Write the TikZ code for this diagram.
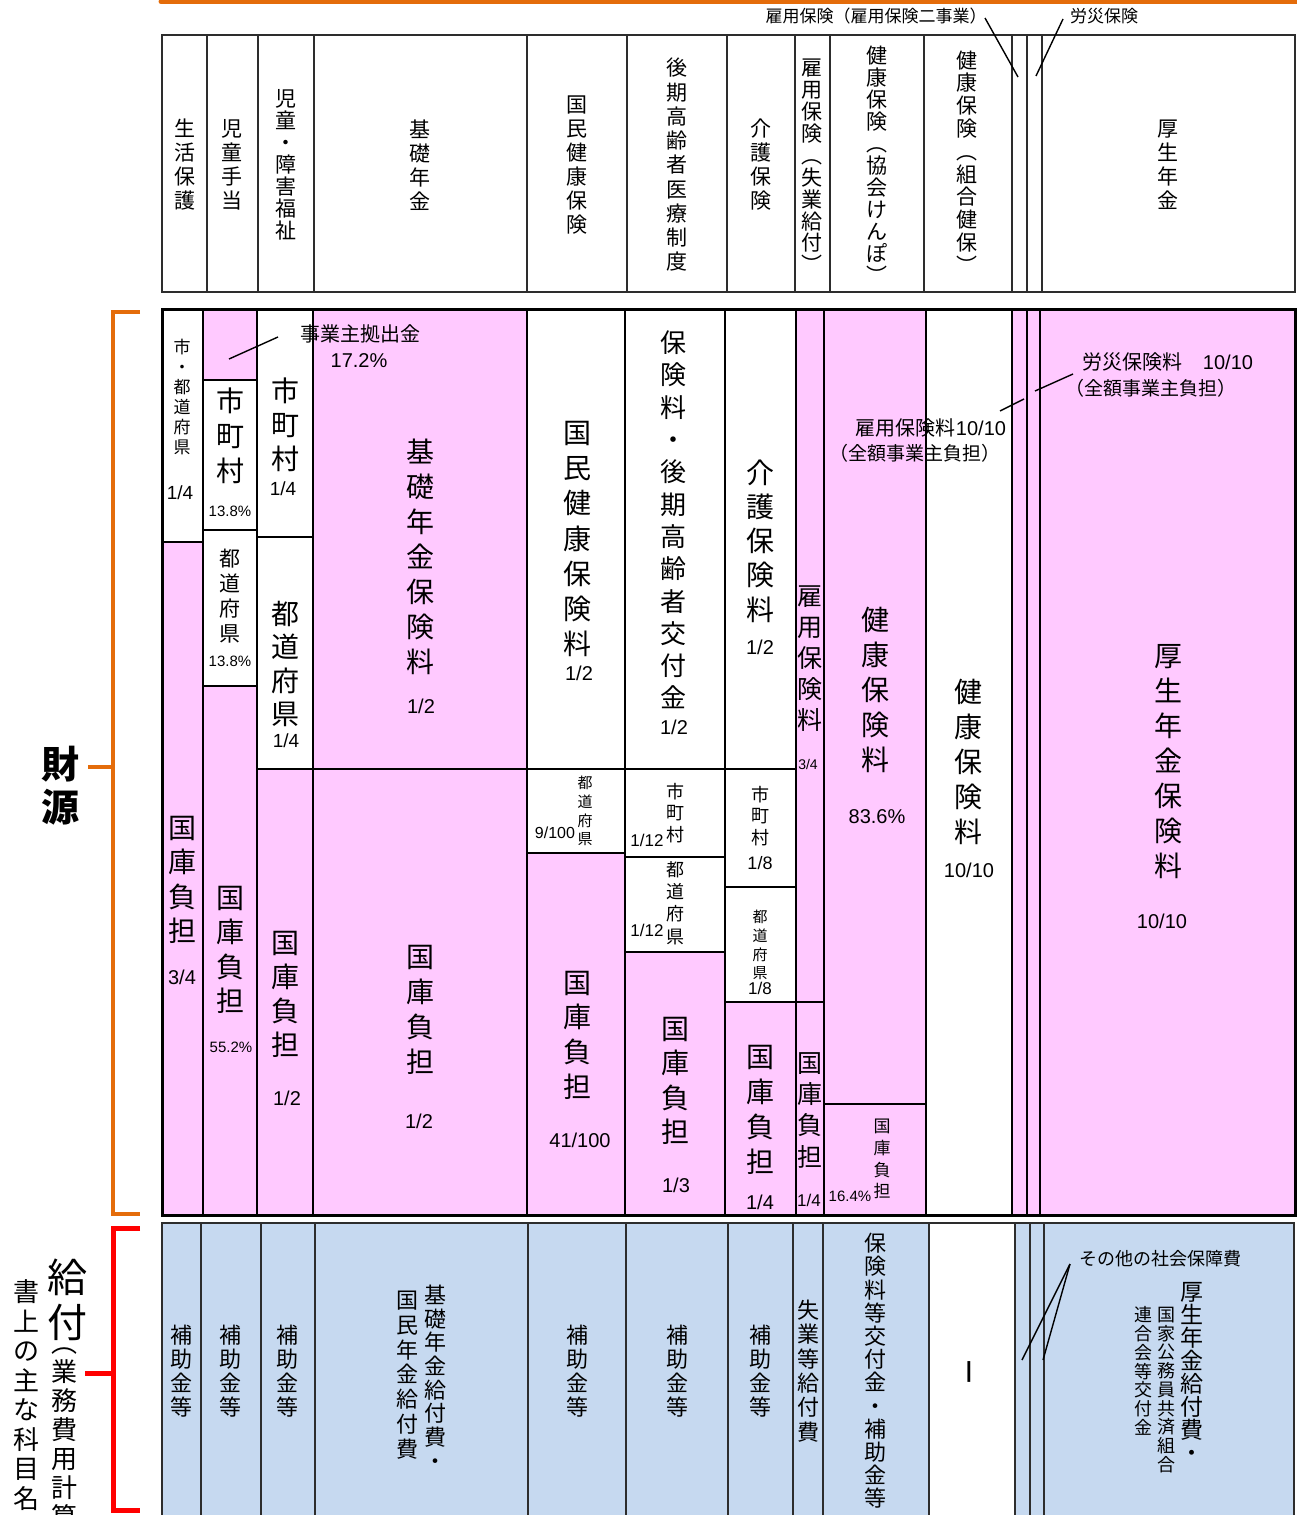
\documentclass[tikz,border=0pt]{standalone}
\usepackage{fontspec}
\setmainfont{Liberation Sans}
\newfontfamily\jp{Noto Sans CJK JP}
\newcommand\fs[2]{\fontsize{#1}{#2}\selectfont}
\def\VTend{\VTend}
\def\VT#1{\VTa#1\VTend}
\def\VTa#1{#1\VTb}
\def\VTb#1{\ifx\VTend#1\expandafter\VTstop\else\expandafter\VTc\fi{#1}}
\def\VTstop#1{}
\def\VTc#1{\\#1\VTb}
\newcommand\bx[5]{\draw[#1] (#2,#3) rectangle (#4,#5);}
\definecolor{pk}{RGB}{255,201,255}
\definecolor{bl}{RGB}{198,217,240}
\definecolor{og}{RGB}{228,108,10}
\definecolor{gl}{RGB}{45,45,45}
\tikzset{
  J/.style 2 args={inner sep=0pt, align=center, font={\jp\fs{#1}{#2}\lineskiplimit=-100pt}},
  JB/.style 2 args={inner sep=0pt, align=center, font={\jp\bfseries\fs{#1}{#2}\lineskiplimit=-100pt}},
  N/.style={inner sep=0pt, font={\fs{#1}{#1}}},
  pb/.style={fill=pk, draw=black, line width=2.5pt},
  wb/.style={fill=white, draw=black, line width=2.5pt},
  gline/.style={draw=gl, line width=1.5pt},
  ld/.style={draw=black, line width=1.4pt},
}
\begin{document}
\begin{tikzpicture}[x=1pt,y=-1pt]
\useasboundingbox (0,0) rectangle (1296,1515);
% top orange rule
\draw[og, line width=5pt, line cap=round] (161,1.5) -- (1302,1.5);
% ---------------- header ----------------
\draw[gline, fill=white] (162,35) rectangle (1295,292);
\foreach \x in {207,258,314,527,627,727,795,830,924,1012,1027,1042}
  \draw[gline] (\x,35) -- (\x,292);
\node[J={21}{24}] (h1) at (185,165) {\VT{生活保護}};
\node[J={21}{24}] (h2) at (232,165) {\VT{児童手当}};
\node[J={21}{22}] (h3) at (286,165) {\VT{児童・障害福祉}};
\node[J={21}{24}] (h4) at (420,165) {\VT{基礎年金}};
\node[J={21}{24}] (h5) at (577,165) {\VT{国民健康保険}};
\node[J={21}{24.25}] (h6) at (677,165) {\VT{後期高齢者医療制度}};
\node[J={21}{24}] (h7) at (761,165) {\VT{介護保険}};
\node[J={21}{21.9}] (h8) at (812,166) {\VT{雇用保険︵失業給付︶}};
\node[J={21}{22}] (h9) at (877,165) {\VT{健康保険︵協会けんぽ︶}};
\node[J={21}{22.8}] (h10) at (967,162) {\VT{健康保険︵組合健保︶}};
\node[J={21}{24}] (h11) at (1168,165) {\VT{厚生年金}};
\node[J={17}{17}] (t1) at (876,16) {雇用保険（雇用保険二事業）};
\node[J={17}{17}] (t2) at (1104,16) {労災保険};
\coordinate (t1e) at (985,18); \coordinate (t1f) at (1018,77);
\coordinate (t2e) at (1063,19); \coordinate (t2f) at (1036,76);
\draw[ld] (t1e) -- (t1f);
\draw[ld] (t2e) -- (t2f);
% ---------------- middle (financing) ----------------
\bx{wb}{162}{309}{203}{542}
\bx{pb}{162}{542}{203}{1215}
\bx{pb}{203}{309}{257}{380}
\bx{wb}{203}{380}{257}{530}
\bx{wb}{203}{530}{257}{686}
\bx{pb}{203}{686}{257}{1215}
\bx{wb}{257}{309}{313}{537}
\bx{wb}{257}{537}{313}{769}
\bx{pb}{257}{769}{313}{1215}
\bx{pb}{313}{309}{527}{769}
\bx{pb}{313}{769}{527}{1215}
\bx{wb}{527}{309}{625}{769}
\bx{wb}{527}{769}{625}{853}
\bx{pb}{527}{853}{625}{1215}
\bx{wb}{625}{309}{725}{769}
\bx{wb}{625}{769}{725}{857}
\bx{wb}{625}{857}{725}{952}
\bx{pb}{625}{952}{725}{1215}
\bx{wb}{725}{309}{796}{769}
\bx{wb}{725}{769}{796}{887}
\bx{wb}{725}{887}{796}{1002}
\bx{pb}{725}{1002}{796}{1215}
\bx{pb}{796}{309}{824}{1002}
\bx{pb}{796}{1002}{824}{1215}
\bx{pb}{824}{309}{926}{1104}
\bx{pb}{824}{1104}{926}{1215}
\bx{wb}{926}{309}{1012}{1215}
\bx{pb}{1012}{309}{1027}{1215}
\bx{pb}{1027}{309}{1040}{1215}
\bx{pb}{1040}{309}{1295}{1215}
\draw[line width=3pt] (162,309) rectangle (1295,1215);
% col 1
\node[J={17}{20}] (m1a) at (182,397) {\VT{市・都道府県}};
\node[N=19] (m1b) at (180,493) {1/4};
\node[J={28}{34.3}] (m1c) at (182,880) {\VT{国庫負担}};
\node[N=20] (m1d) at (182,977) {3/4};
% col 2
\node[J={28}{35}] (m2a) at (230,436) {\VT{市町村}};
\node[N=15] (m2b) at (230,511) {13.8\%};
\node[J={21}{25}] (m2c) at (230,596) {\VT{都道府県}};
\node[N=15] (m2d) at (230,661) {13.8\%};
\node[J={28}{34.3}] (m2e) at (230,950) {\VT{国庫負担}};
\node[N=15] (m2f) at (231,1047) {55.2\%};
% col 3
\node[J={28}{34}] (m3a) at (285,425) {\VT{市町村}};
\node[N=19] (m3b) at (283,489) {1/4};
\node[J={28}{33.3}] (m3c) at (285,664) {\VT{都道府県}};
\node[N=19] (m3d) at (286,741) {1/4};
\node[J={28}{34}] (m3e) at (285,994) {\VT{国庫負担}};
\node[N=20] (m3f) at (287,1098) {1/2};
% col 4
\node[J={20}{20}] (m4a) at (360,334) {事業主拠出金};
\node[N=20] (m4b) at (359,361) {17.2\%};
\coordinate (m4e1) at (278,337); \coordinate (m4e2) at (229,359);
\draw[ld] (m4e1) -- (m4e2);
\node[J={28}{35}] (m4c) at (420,557) {\VT{基礎年金保険料}};
\node[N=20] (m4d) at (421,706) {1/2};
\node[J={28}{35}] (m4e) at (420,1010) {\VT{国庫負担}};
\node[N=20] (m4f) at (419,1121) {1/2};
% col 5
\node[J={28}{35.3}] (m5a) at (577,539) {\VT{国民健康保険料}};
\node[N=20] (m5b) at (579,673) {1/2};
\node[J={15}{18.7}] (m5c) at (585,811) {\VT{都道府県}};
\node[N=16] (m5d) at (555,833) {9/100};
\node[J={28}{34.7}] (m5e) at (577,1035) {\VT{国庫負担}};
\node[N=20] (m5f) at (580,1140) {41/100};
% col 6
\node[J={26}{32.3}] (m6a) at (673,520) {\VT{保険料・後期高齢者交付金}};
\node[N=20] (m6b) at (674,727) {1/2};
\node[J={18}{21.5}] (m6c) at (675,813) {\VT{市町村}};
\node[N=17] (m6d) at (647,840) {1/12};
\node[J={18}{22.3}] (m6e) at (675,903) {\VT{都道府県}};
\node[N=17] (m6f) at (647,930) {1/12};
\node[J={28}{34.3}] (m6g) at (675,1081) {\VT{国庫負担}};
\node[N=20] (m6h) at (676,1185) {1/3};
% col 7
\node[J={28}{34.3}] (m7a) at (760,541) {\VT{介護保険料}};
\node[N=20] (m7b) at (760,647) {1/2};
\node[J={18}{21.5}] (m7c) at (760,816) {\VT{市町村}};
\node[N=18] (m7d) at (760,863) {1/8};
\node[J={15}{18.7}] (m7e) at (760,945) {\VT{都道府県}};
\node[N=17] (m7f) at (760,988) {1/8};
\node[J={28}{35}] (m7g) at (760,1110) {\VT{国庫負担}};
\node[N=20] (m7h) at (760,1202) {1/4};
% col 8
\node[J={25}{31}] (m8a) at (810,659) {\VT{雇用保険料}};
\node[N=14] (m8b) at (808,764) {3/4};
\node[J={25}{31.3}] (m8c) at (810,1110) {\VT{国庫負担}};
\node[N=17] (m8d) at (809,1200) {1/4};
% col 9
\node[J={28}{35}] (m9a) at (875,690) {\VT{健康保険料}};
\node[N=20] (m9b) at (877,817) {83.6\%};
\node[J={17}{21.7}] (m9c) at (882,1159) {\VT{国庫負担}};
\node[N=15] (m9d) at (850,1196) {16.4\%};
% employment / workers' comp labels
\node[J={20}{20}] (ko1) at (931,428) {雇用保険料{\rmfamily 10/10}};
\node[J={19}{19}] (ko2) at (915,453) {（全額事業主負担）};
\coordinate (koe1) at (1000,411); \coordinate (koe2) at (1024,399);
\draw[ld] (koe1) -- (koe2);
\node[J={20}{20}] (ro1) at (1168,362) {労災保険料\quad{\rmfamily 10/10}};
\node[J={19}{19}] (ro2) at (1151,388) {（全額事業主負担）};
\coordinate (roe1) at (1035,391); \coordinate (roe2) at (1073,374);
\draw[ld] (roe1) -- (roe2);
% col 10, 13
\node[J={28}{35}] (m10a) at (968,762) {\VT{健康保険料}};
\node[N=20] (m10b) at (969,870) {10/10};
\node[J={28}{35}] (m13a) at (1168,762) {\VT{厚生年金保険料}};
\node[N=20] (m13b) at (1162,921) {10/10};
% ---------------- bottom (benefits) ----------------
\fill[bl] (162,1223) rectangle (1294,1530);
\fill[white] (929,1223) rectangle (1015,1530);
\draw[gl, line width=1.3pt] (162,1530) -- (162,1223) -- (1294,1223) -- (1294,1530);
\foreach \x in {201,261,315,528,626,728,793,823,929,1015,1030,1044}
  \draw[gl, line width=1.3pt] (\x,1223) -- (\x,1530);
\node[J={22}{24}] (b1) at (181,1371) {\VT{補助金等}};
\node[J={22}{24}] (b2) at (230,1371) {\VT{補助金等}};
\node[J={22}{24}] (b3) at (287,1371) {\VT{補助金等}};
\node[J={22}{23.7}] (b4a) at (435,1377) {\VT{基礎年金給付費・}};
\node[J={22}{24.8}] (b4b) at (407,1375) {\VT{国民年金給付費}};
\node[J={22}{24}] (b5) at (577,1371) {\VT{補助金等}};
\node[J={22}{24}] (b6) at (677,1371) {\VT{補助金等}};
\node[J={22}{24}] (b7) at (760,1371) {\VT{補助金等}};
\node[J={22}{24.4}] (b8) at (808,1371) {\VT{失業等給付費}};
\node[J={22}{23.2}] (b9) at (875,1371) {\VT{保険料等交付金・補助金等}};
\node[N=22, font={\bfseries\fs{22}{22}}] (b10) at (969,1372) {|};
\node[J={18}{18}] (b11) at (1160,1259) {その他の社会保障費};
\coordinate (b11e) at (1070,1264);
\coordinate (b11f) at (1022,1360);
\coordinate (b11g) at (1043,1360);
\draw[ld] (b11e) -- (b11f);
\draw[ld] (b11e) -- (b11g);
\node[J={23}{23}] (b12a) at (1192,1372) {\VT{厚生年金給付費・}};
\node[J={18}{18.75}] (b12b) at (1166,1390) {\VT{国家公務員共済組合}};
\node[J={18}{18.8}] (b12c) at (1143,1371) {\VT{連合会等交付金}};
% ---------------- left labels and brackets ----------------
\node[JB={38}{43}] (zai) at (60,786) {\VT{財源}};
\coordinate (zb1) at (140,312); \coordinate (zb2) at (113,312);
\coordinate (zb3) at (113,1214); \coordinate (zb4) at (140,1214);
\coordinate (zt1) at (88,767); \coordinate (zt2) at (113,767);
\draw[og, line width=4pt] (zb1) -- (zb2) -- (zb3) -- (zb4);
\draw[og, line width=4pt] (zt1) -- (zt2);
\node[J={40}{45}] (kyu1) at (67,1300) {\VT{給付}};
\node[J={26}{29}] (kyu2) at (64,1438) {\VT{︵業務費用計算}};
\node[J={26}{29.5}] (kyu3) at (26,1409) {\VT{書上の主な科目名︶}};
\coordinate (kb1) at (140,1228); \coordinate (kb2) at (113,1228);
\coordinate (kb3) at (113,1510); \coordinate (kb4) at (140,1510);
\coordinate (kt1) at (85,1373); \coordinate (kt2) at (113,1373);
\draw[red, line width=5pt] (kb1) -- (kb2) -- (kb3) -- (kb4);
\draw[red, line width=5pt] (kt1) -- (kt2);
\end{tikzpicture}
\end{document}
